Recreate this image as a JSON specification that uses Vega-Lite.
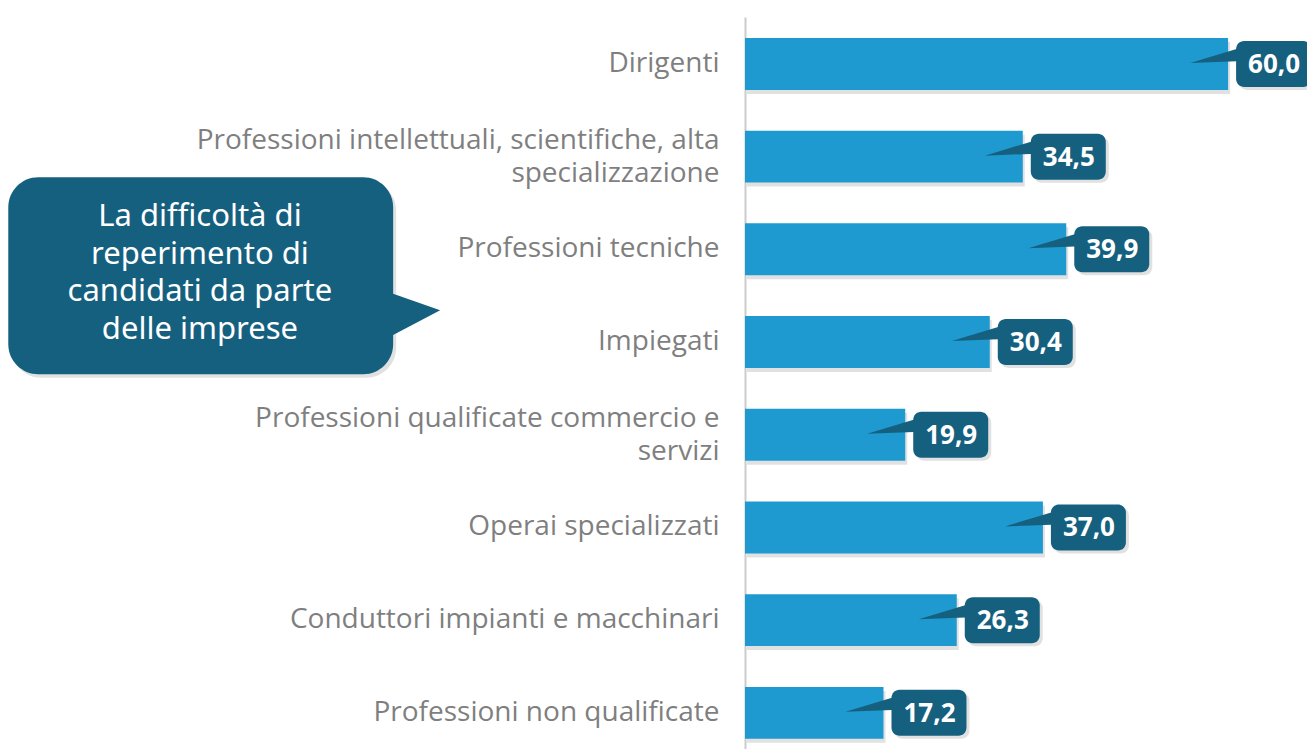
{
  "$schema": "https://vega.github.io/schema/vega-lite/v6.json",
  "autosize": "none",
  "width": 562,
  "height": 732,
  "padding": {"left": 745, "top": 17, "right": 0, "bottom": 0},
  "background": "#ffffff",
  "config": {
    "view": {"stroke": null},
    "locale": {"number": {"decimal": ",", "thousands": ".", "grouping": [3], "currency": ["", " €"]}}
  },
  "data": {
    "values": [
      {"categoria": "Dirigenti", "valore": 60.0},
      {"categoria": "Professioni intellettuali, scientifiche, alta specializzazione", "valore": 34.5},
      {"categoria": "Professioni tecniche", "valore": 39.9},
      {"categoria": "Impiegati", "valore": 30.4},
      {"categoria": "Professioni qualificate commercio e servizi", "valore": 19.9},
      {"categoria": "Operai specializzati", "valore": 37.0},
      {"categoria": "Conduttori impianti e macchinari", "valore": 26.3},
      {"categoria": "Professioni non qualificate", "valore": 17.2}
    ]
  },
  "encoding": {
    "y": {
      "field": "categoria",
      "type": "nominal",
      "sort": null,
      "scale": {"paddingInner": 0.44, "paddingOuter": 0.168, "align": 0.673},
      "axis": {
        "title": null,
        "domainColor": "#cccccc",
        "domainWidth": 2,
        "ticks": false,
        "labelPadding": 26,
        "labelFontSize": 28,
        "labelColor": "#7f7f7f",
        "labelFont": "Open Sans",
        "labelLimit": 700,
        "labelLineHeight": 33,
        "labelOffset": {"condition": {"test": "indexof(datum.value, 'Professioni intellettuali') == 0 || indexof(datum.value, 'Professioni qualificate') == 0", "value": -16}, "value": 0},
        "labelExpr": "datum.value == 'Professioni intellettuali, scientifiche, alta specializzazione' ? ['Professioni intellettuali, scientifiche, alta', 'specializzazione'] : datum.value == 'Professioni qualificate commercio e servizi' ? ['Professioni qualificate commercio e', 'servizi'] : datum.value"
      }
    }
  },
  "layer": [
    {
      "mark": {"type": "bar", "color": "#9a9a9a", "opacity": 0.3, "yOffset": 4, "xOffset": 2},
      "encoding": {
        "x": {"field": "valore", "type": "quantitative", "scale": {"domain": [0, 69.8], "nice": false}, "axis": null}
      }
    },
    {
      "mark": {"type": "bar", "color": "#1f9ad0"},
      "encoding": {
        "x": {"field": "valore", "type": "quantitative"}
      }
    },
    {
      "mark": {"type": "point", "filled": true, "opacity": 1, "color": "#16607f", "size": 10000, "shape": "M -0.76 -0.02 L 0.3 -0.34 L 0.3 -0.06 Z"},
      "encoding": {"x": {"field": "valore", "type": "quantitative"}}
    },
    {
      "mark": {"type": "bar", "color": "#9a9a9a", "opacity": 0.3, "height": 46, "xOffset": 11, "x2Offset": 86, "yOffset": 3, "cornerRadius": 8},
      "encoding": {
        "x": {"field": "valore", "type": "quantitative"},
        "x2": {"field": "valore"}
      }
    },
    {
      "mark": {"type": "bar", "color": "#16607f", "height": 46, "xOffset": 8, "x2Offset": 83, "cornerRadius": 8},
      "encoding": {
        "x": {"field": "valore", "type": "quantitative"},
        "x2": {"field": "valore"}
      }
    },
    {
      "mark": {"type": "text", "color": "#ffffff", "font": "Open Sans", "fontSize": 26, "fontWeight": "bold", "align": "center", "baseline": "middle", "dx": 46, "dy": 1},
      "encoding": {
        "x": {"field": "valore", "type": "quantitative"},
        "text": {"field": "valore", "type": "quantitative", "format": ".1f"}
      }
    },
    {
      "transform": [{"filter": "datum.categoria == 'Professioni tecniche'"}],
      "mark": {"type": "bar", "color": "#9a9a9a", "opacity": 0.3, "height": 197, "yOffset": 30, "xOffset": 3, "x2Offset": 3, "cornerRadius": 30},
      "encoding": {
        "x": {"datum": -91.5, "type": "quantitative"},
        "x2": {"datum": -43.7}
      }
    },
    {
      "transform": [{"filter": "datum.categoria == 'Professioni tecniche'"}],
      "mark": {"type": "bar", "color": "#16607f", "height": 197, "yOffset": 26.5, "cornerRadius": 30},
      "encoding": {
        "x": {"datum": -91.5, "type": "quantitative"},
        "x2": {"datum": -43.7}
      }
    },
    {
      "transform": [{"filter": "datum.categoria == 'Professioni tecniche'"}],
      "mark": {"type": "point", "filled": true, "opacity": 1, "color": "#16607f", "size": 10000, "yOffset": 61, "shape": "M -0.2 -0.4 L 0.94 0 L -0.2 0.6 Z"},
      "encoding": {"x": {"datum": -43.7, "type": "quantitative"}}
    },
    {
      "transform": [{"filter": "datum.categoria == 'Professioni tecniche'"}],
      "mark": {"type": "text", "color": "#ffffff", "font": "Noto Sans", "fontSize": 31, "align": "center", "baseline": "middle", "lineHeight": 37.5, "yOffset": -32, "text": ["La difficoltà di", "reperimento di", "candidati da parte", "delle imprese"]},
      "encoding": {"x": {"datum": -67.7, "type": "quantitative"}}
    }
  ]
}
